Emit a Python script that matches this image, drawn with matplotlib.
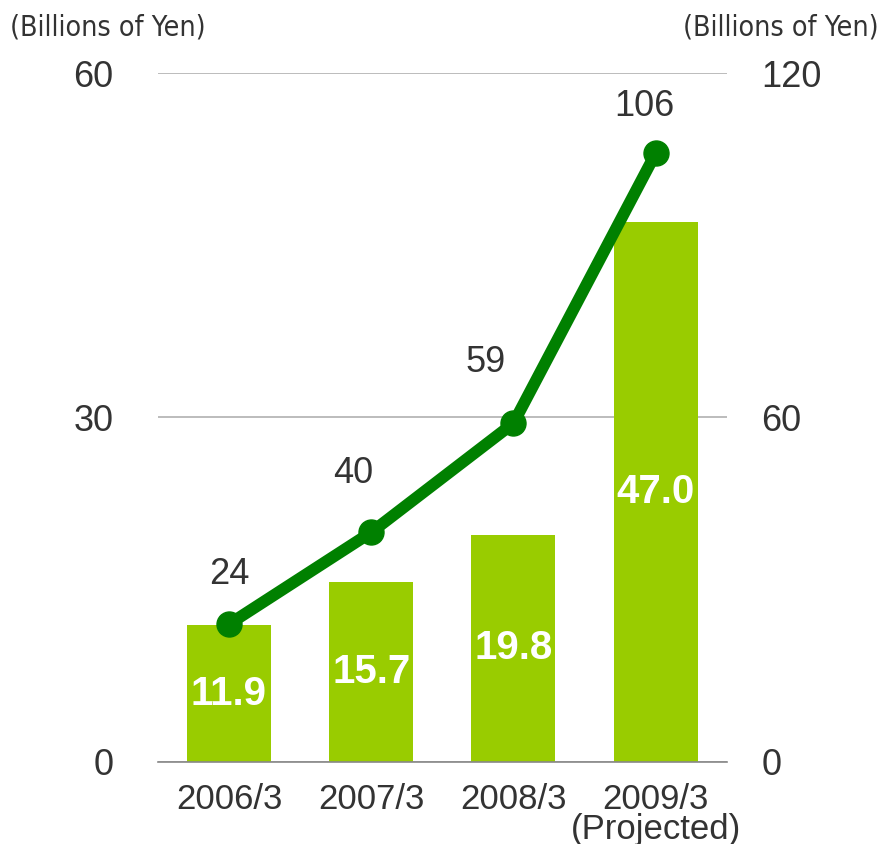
import matplotlib.pyplot as plt
import numpy as np

plt.rcParams['font.family'] = ['Liberation Sans', 'DejaVu Sans']

# 数据
years = ['2006/3', '2007/3', '2008/3', '2009/3\n(Projected)']
bar_values = [11.9, 15.7, 19.8, 47.0]
line_values = [24, 40, 59, 106]

bar_color = '#99cc00'
line_color = '#008000'
text_color = '#333333'

fig = plt.figure(figsize=(8.82, 8.44), dpi=100)
ax = fig.add_axes([0.179, 0.0972, 0.645, 0.8163])
ax2 = ax.twinx()

x = np.arange(len(years))

# 柱状图
ax.bar(x, bar_values, width=0.59, color=bar_color, zorder=2)
for xi, v in zip(x, bar_values):
    ax.text(xi, v / 2, '%.1f' % v, ha='center', va='center',
            color='white', fontsize=29, fontweight='bold', zorder=3)

ax.set_xlim(-0.5, 3.5)
ax.set_ylim(0, 60)
ax.set_yticks([0, 30, 60])
ax.set_xticks(x)
ax.set_xticklabels(years, fontsize=25, color=text_color)
ax.get_xticklabels()[3].set_linespacing(0.88)
ax.tick_params(axis='x', length=0, pad=15)
ax.tick_params(axis='y', length=0, pad=32, labelsize=26, labelcolor=text_color)
ax.grid(axis='y', color='#b0b0b0', linewidth=1.2, zorder=0)
for s in ['top', 'left', 'right']:
    ax.spines[s].set_visible(False)
ax.spines['bottom'].set_color('#888888')
ax.spines['bottom'].set_linewidth(1.2)
ax.set_axisbelow(True)

# 折线图（右轴）
ax2.plot(x, line_values, color=line_color, linewidth=8.5, marker='o',
         markersize=18, solid_capstyle='round', zorder=4)
ax2.set_ylim(0, 120)
ax2.set_yticks([0, 60, 120])
ax2.tick_params(axis='y', length=0, pad=25, labelsize=26, labelcolor=text_color)
for s in ax2.spines.values():
    s.set_visible(False)

label_dx = [0, -13, -20, -8]
label_dy = [36, 42, 44, 34]
for xi, v, dx, dy in zip(x, line_values, label_dx, label_dy):
    ax2.annotate(str(v), (xi, v), xytext=(dx, dy), textcoords='offset points',
                 ha='center', va='center', fontsize=26, color=text_color)

# 坐标轴单位（窄字体）
unit_kw = dict(fontsize=20.5, color=text_color, va='center',
               family='DejaVu Sans', fontstretch='condensed')
fig.text(0.011, 0.967, '(Billions of Yen)', ha='left', **unit_kw)
fig.text(0.996, 0.967, '(Billions of Yen)', ha='right', **unit_kw)

fig.savefig('out.png', dpi=100)
